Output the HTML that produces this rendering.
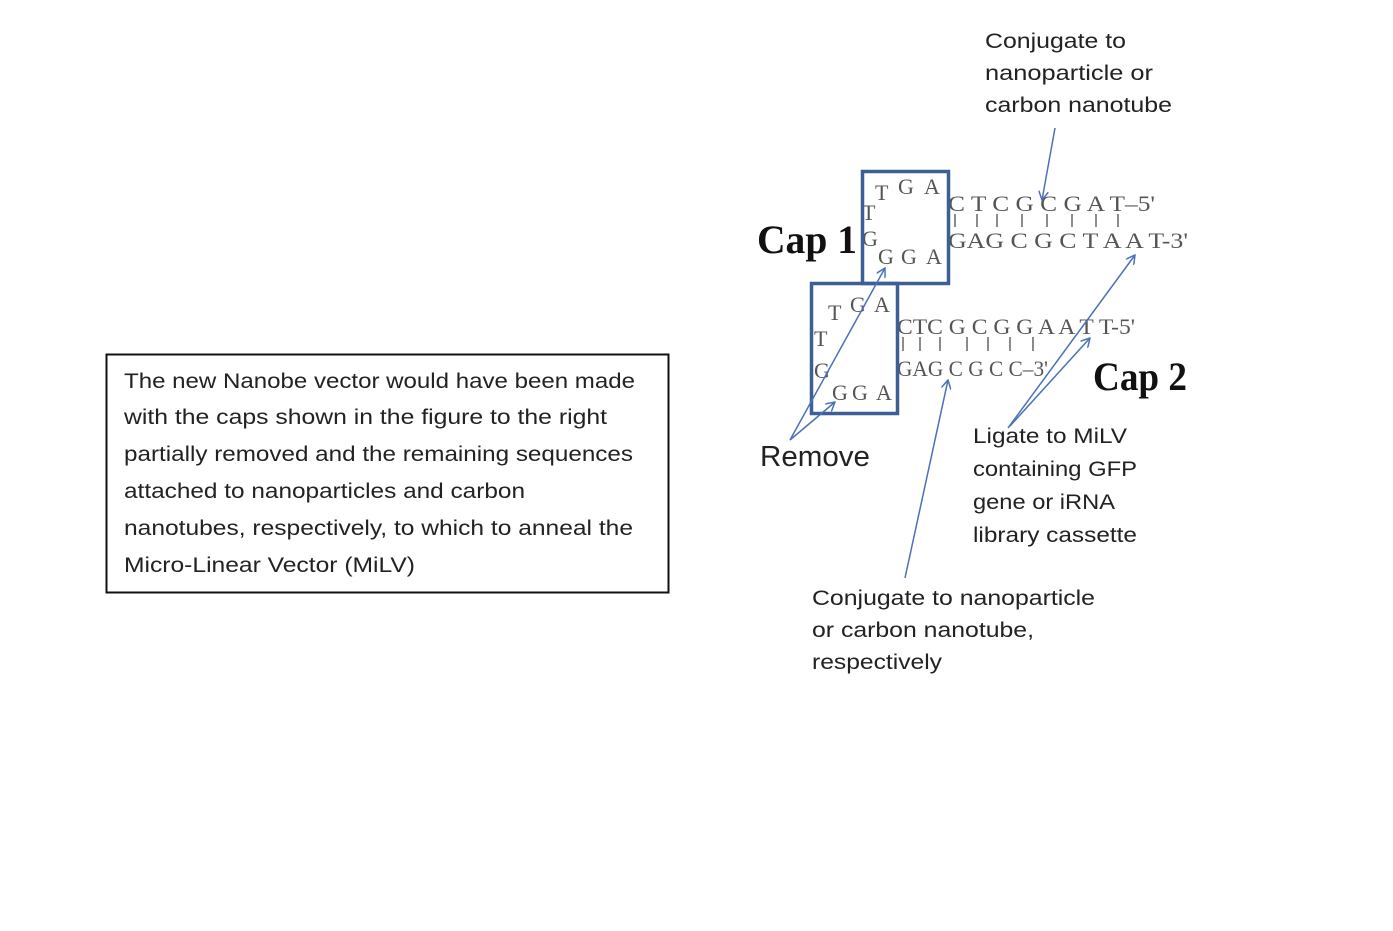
<!DOCTYPE html>
<html><head><meta charset="utf-8"><style>
html,body{margin:0;padding:0;background:#fff;}
svg{display:block;}
.s{font-family:"Liberation Sans",sans-serif;font-size:21px;fill:#222;}
.d{font-family:"Liberation Serif",serif;font-size:22px;fill:#555;}
.c{font-family:"Liberation Serif",serif;font-size:40px;font-weight:bold;fill:#111;}
</style></head><body>
<svg width="1393" height="931" viewBox="0 0 1393 931" xmlns="http://www.w3.org/2000/svg">
<defs><marker id="a" markerWidth="10" markerHeight="10" refX="9" refY="5" orient="auto" markerUnits="userSpaceOnUse"><path d="M0,0 L9,5 L0,10" fill="none" stroke="#4a72b8" stroke-width="1.5"/></marker></defs>
<rect x="106.5" y="354.5" width="562" height="238" fill="none" stroke="#111" stroke-width="2"/>
<text class="s" x="124" y="388" textLength="511" lengthAdjust="spacingAndGlyphs">The new Nanobe vector would have been made</text>
<text class="s" x="124" y="424" textLength="483" lengthAdjust="spacingAndGlyphs">with the caps shown in the figure to the right</text>
<text class="s" x="124" y="461" textLength="509" lengthAdjust="spacingAndGlyphs">partially removed and the remaining sequences</text>
<text class="s" x="124" y="498" textLength="401" lengthAdjust="spacingAndGlyphs">attached to nanoparticles and carbon</text>
<text class="s" x="124" y="535" textLength="509" lengthAdjust="spacingAndGlyphs">nanotubes, respectively, to which to anneal the</text>
<text class="s" x="124" y="572" textLength="291" lengthAdjust="spacingAndGlyphs">Micro-Linear Vector (MiLV)</text>

<text class="s" x="985" y="48" textLength="141" lengthAdjust="spacingAndGlyphs">Conjugate to</text>
<text class="s" x="985" y="80" textLength="168" lengthAdjust="spacingAndGlyphs">nanoparticle or</text>
<text class="s" x="985" y="112" textLength="187" lengthAdjust="spacingAndGlyphs">carbon nanotube</text>
<text class="s" x="973" y="443" textLength="154" lengthAdjust="spacingAndGlyphs">Ligate to MiLV</text>
<text class="s" x="973" y="476" textLength="164" lengthAdjust="spacingAndGlyphs">containing GFP</text>
<text class="s" x="973" y="509" textLength="142" lengthAdjust="spacingAndGlyphs">gene or iRNA</text>
<text class="s" x="973" y="542" textLength="164" lengthAdjust="spacingAndGlyphs">library cassette</text>
<text class="s" x="812" y="605" textLength="283" lengthAdjust="spacingAndGlyphs">Conjugate to nanoparticle</text>
<text class="s" x="812" y="637" textLength="222" lengthAdjust="spacingAndGlyphs">or carbon nanotube,</text>
<text class="s" x="812" y="669" textLength="130" lengthAdjust="spacingAndGlyphs">respectively</text>
<text class="s" x="760" y="466" style="font-size:29px" textLength="110" lengthAdjust="spacingAndGlyphs">Remove</text>
<text class="c" x="757" y="253" textLength="100" lengthAdjust="spacingAndGlyphs">Cap 1</text>
<text class="c" x="1093" y="390" textLength="94" lengthAdjust="spacingAndGlyphs">Cap 2</text>

<text class="d" x="875" y="200">T</text><text class="d" x="898" y="194">G</text><text class="d" x="924" y="194">A</text>
<text class="d" x="862" y="220">T</text><text class="d" x="862" y="246">G</text>
<text class="d" x="878" y="264">G</text><text class="d" x="901" y="264">G</text><text class="d" x="926" y="264">A</text>
<text class="d" x="948" y="211" textLength="207" lengthAdjust="spacingAndGlyphs">C T C  G C  G A T–5'</text>
<text class="d" x="948" y="248" textLength="240" lengthAdjust="spacingAndGlyphs">GAG C G C T A A T-3'</text>
<g stroke="#666" stroke-width="1.5">
<line x1="955" y1="214" x2="955" y2="227"/><line x1="977" y1="214" x2="977" y2="227"/><line x1="997" y1="214" x2="997" y2="227"/><line x1="1022" y1="214" x2="1022" y2="227"/><line x1="1047" y1="214" x2="1047" y2="227"/><line x1="1072" y1="214" x2="1072" y2="227"/><line x1="1096" y1="214" x2="1096" y2="227"/><line x1="1118" y1="214" x2="1118" y2="227"/>
</g>
<text class="d" x="828" y="320">T</text><text class="d" x="850" y="312">G</text><text class="d" x="874" y="312">A</text>
<text class="d" x="814" y="346">T</text><text class="d" x="814" y="378">G</text>
<text class="d" x="832" y="400">G</text><text class="d" x="852" y="400">G</text><text class="d" x="876" y="400">A</text>
<text class="d" x="897" y="334" textLength="238" lengthAdjust="spacingAndGlyphs">CTC  G C G G A A T T-5'</text>
<text class="d" x="897" y="376" textLength="151" lengthAdjust="spacingAndGlyphs">GAG  C G C C–3'</text>
<g stroke="#666" stroke-width="1.5">
<line x1="903" y1="337" x2="903" y2="351"/><line x1="920" y1="337" x2="920" y2="351"/><line x1="940" y1="337" x2="940" y2="351"/><line x1="967" y1="337" x2="967" y2="351"/><line x1="988" y1="337" x2="988" y2="351"/><line x1="1010" y1="337" x2="1010" y2="351"/><line x1="1033" y1="337" x2="1033" y2="351"/>
</g>
<rect x="862.5" y="171.5" width="86" height="112" fill="none" stroke="#3d5f95" stroke-width="3.5"/>
<rect x="811.5" y="283.5" width="86" height="130" fill="none" stroke="#3d5f95" stroke-width="3.5"/>

<g stroke="#4a72b8" stroke-width="1.5" fill="none" marker-end="url(#a)">
<line x1="1055" y1="128" x2="1042" y2="200"/>
<line x1="790" y1="440" x2="885" y2="268"/>
<line x1="790" y1="440" x2="835" y2="402"/>
<line x1="905" y1="578" x2="948" y2="380"/>
<line x1="1008" y1="428" x2="1135" y2="255"/>
<line x1="1010" y1="426" x2="1090" y2="338"/>
</g>
</svg>
</body></html>
